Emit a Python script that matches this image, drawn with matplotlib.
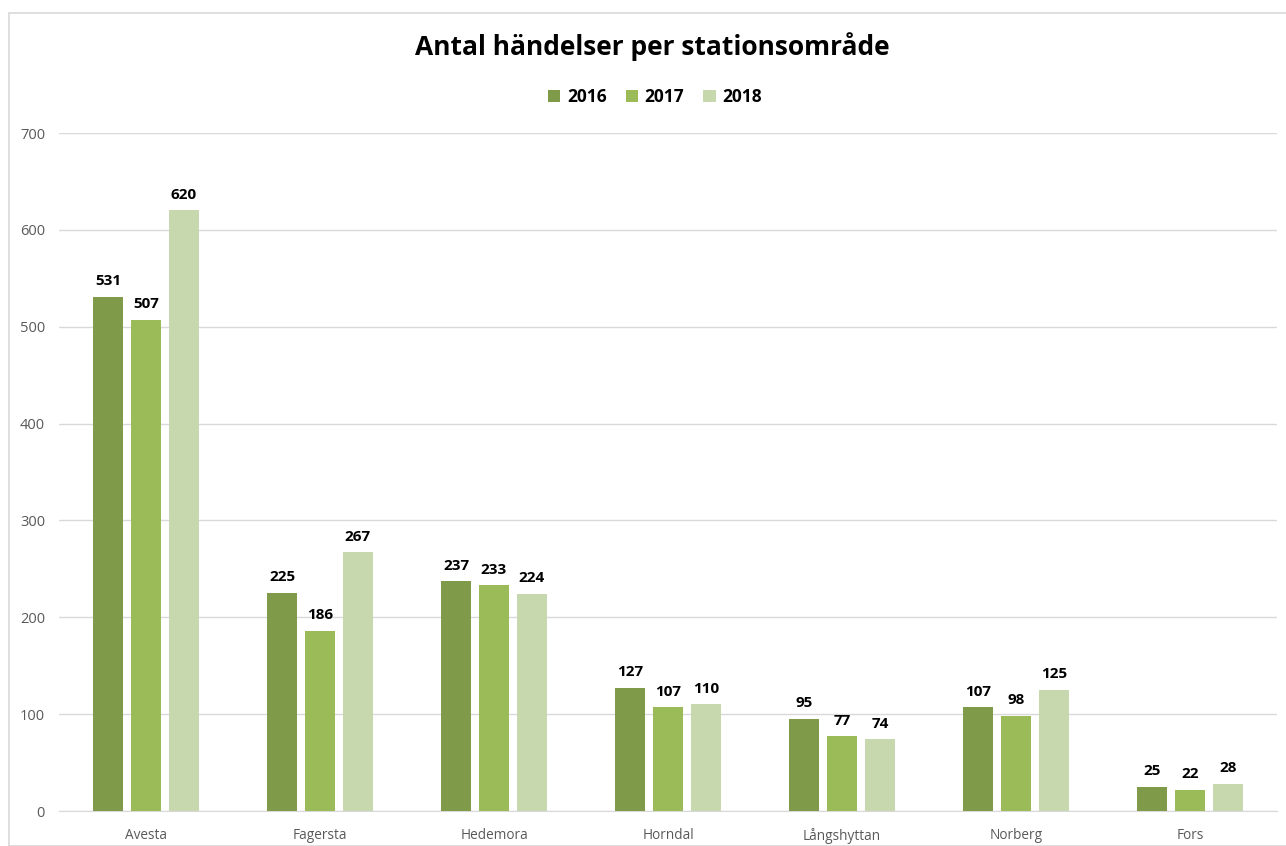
import matplotlib
matplotlib.use("Agg")
import matplotlib.pyplot as plt
import numpy as np
from matplotlib.patches import Rectangle

categories = ["Avesta", "Fagersta", "Hedemora", "Horndal", "Långshyttan", "Norberg", "Fors"]
years = ["2016", "2017", "2018"]
v2016 = [531, 225, 237, 127, 95, 107, 25]
v2017 = [507, 186, 233, 107, 77, 98, 22]
v2018 = [620, 267, 224, 110, 74, 125, 28]
series = [v2016, v2017, v2018]
colors = ["#7F9A48", "#9BBB59", "#C7D7AE"]

W, H = 1286, 846
fig = plt.figure(figsize=(W/100, H/100), dpi=100)
plt.rcParams['font.family'] = ['Open Sans', 'DejaVu Sans']

# outer border
fig.patches.append(Rectangle((9/W, 0), 1.0, 1 - 13/H, transform=fig.transFigure,
                             fill=False, edgecolor="#D9D9D9", linewidth=1.2))

left, right = 59/W, 1277/W
bottom, top = 1 - 811/H, 1 - 133/H
ax = fig.add_axes([left, bottom, right-left, top-bottom])

x = np.arange(len(categories))
width = 0.172
step = 0.218
for i, (vals, c, yr) in enumerate(zip(series, colors, years)):
    pos = x + (i-1)*step
    ax.bar(pos, vals, width=width, color=c, label=yr, zorder=3)
    for p, v in zip(pos, vals):
        ax.text(p, v + 9, str(v), ha="center", va="bottom", fontsize=11,
                fontweight="bold", color="#000000")

ax.set_xlim(-0.5, len(categories)-0.5)
ax.set_ylim(0, 700)
ax.set_yticks(range(0, 701, 100))
ax.yaxis.grid(True, color="#D9D9D9", linewidth=1, zorder=0)
ax.set_xticks(x)
ax.set_xticklabels(categories)
ax.tick_params(axis="x", length=0, labelsize=9.8, colors="#595959", pad=12)
ax.tick_params(axis="y", length=0, labelsize=10.5, colors="#595959", pad=10)
for s in ["top", "right", "left"]:
    ax.spines[s].set_visible(False)
ax.spines["bottom"].set_color("#D9D9D9")

fig.text(652/W, 1 - 47/H, "Antal händelser per stationsområde", ha="center", va="center",
         fontsize=19, fontweight="bold", color="#000000")
fig.legend(loc="center", bbox_to_anchor=(655/W, 1 - 97/H), ncol=3, frameon=False,
           handlelength=0.7, handleheight=0.7, handletextpad=0.4,
           columnspacing=1.1, prop={"weight": "bold", "size": 12.5})
fig.savefig("out.png", dpi=100)
